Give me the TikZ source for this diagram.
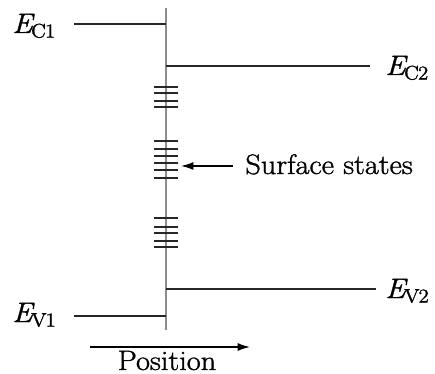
\documentclass[tikz,border=0pt]{standalone}
\usepackage{amsmath}
\usepackage{fontspec}
\setmainfont{Latin Modern Roman}[FakeStretch=1.08, FakeBold=1.2]
\usepackage{tikz}
\usetikzlibrary{arrows.meta, positioning}

\begin{document}
\begin{tikzpicture}[x=0.02cm, y=-0.02cm,
  lbl/.style={inner sep=0pt, font=\fontsize{16}{19}\selectfont},
  band/.style={line width=1pt, black!85},
  iface/.style={line width=0.9pt, black!45},
  state/.style={line width=1pt, black!85},
  arr/.style={line width=0.8pt, -{Latex[length=7pt, width=4.5pt]}}
]
  \useasboundingbox (0,0) rectangle (435,374);

  % interface
  \coordinate (top) at (166,8);
  \coordinate (bot) at (166,330);
  \draw[iface] (top) -- (bot);

  % band edges
  \node[lbl, anchor=base west] (ec1) at (12,33) {$\mathit{E}_{\mathrm{C1}}$};
  \node[lbl, anchor=base west] (ec2) at (385,75) {$\mathit{E}_{\mathrm{C2}}$};
  \node[lbl, anchor=base west] (ev1) at (12,322) {$\mathit{E}_{\mathrm{V1}}$};
  \node[lbl, anchor=base west] (ev2) at (385,298) {$\mathit{E}_{\mathrm{V2}}$};
  \coordinate (c1l) at (74,24);  \coordinate (c1r) at (166,24);
  \coordinate (c2l) at (166,66); \coordinate (c2r) at (370,66);
  \coordinate (v1l) at (74,316); \coordinate (v1r) at (166,316);
  \coordinate (v2l) at (166,289); \coordinate (v2r) at (376,289);
  \draw[band] (c1l) -- (c1r);
  \draw[band] (c2l) -- (c2r);
  \draw[band] (v1l) -- (v1r);
  \draw[band] (v2l) -- (v2r);

  % surface states
  \foreach \y in {86.7, 92.7, 100.7, 106.7,
                  141, 149.3, 155.7, 163.3, 170, 177.7,
                  218.3, 226.7, 232.7, 241, 247.3}
    \draw[state] (154,\y) -- (178,\y);

  \node[lbl, anchor=base west] (ss) at (245,174) {Surface states};
  \coordinate (sstail) at (233,166);
  \coordinate (sstip) at (181,166);
  \draw[arr] (sstail) -- (sstip);

  % position axis
  \coordinate (pl) at (90,347);
  \coordinate (pr) at (250,347);
  \draw[arr] (pl) -- (pr);
  \node[lbl, anchor=base] (pos) at (167,370) {Position};
\end{tikzpicture}
\end{document}
